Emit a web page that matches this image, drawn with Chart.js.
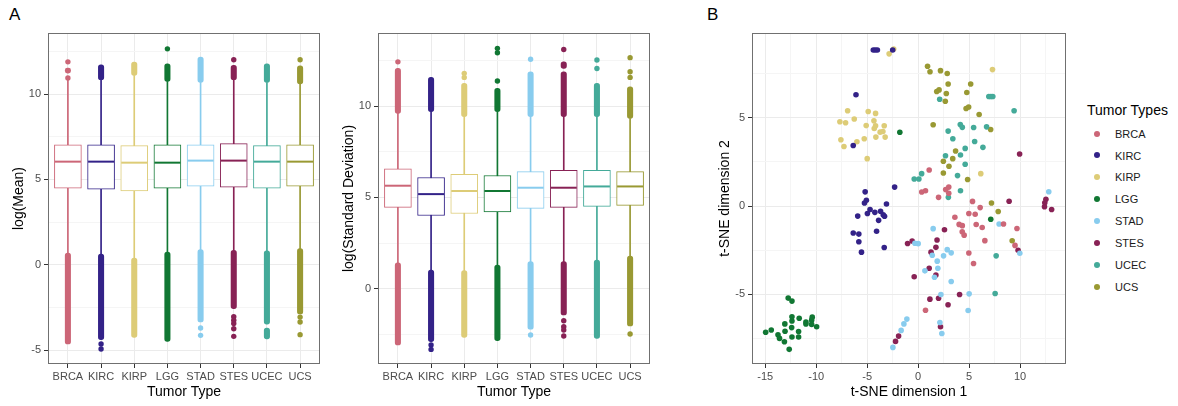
<!DOCTYPE html>
<html>
<head>
<meta charset="utf-8">
<script src="https://cdn.jsdelivr.net/npm/chart.js@4.4.1/dist/chart.umd.min.js"></script>
<style>
  html, body { margin: 0; padding: 0; background: #fff; }
  body { width: 1178px; height: 406px; position: relative; overflow: hidden; font-family: 'Liberation Sans', Arial, sans-serif; }
  canvas { position: absolute; top: 0; }
  .lbl { position: absolute; font-size: 17px; line-height: 17px; color: #000; }
  .legtitle { position: absolute; left: 1087px; top: 103px; font-size: 14px; line-height: 14px; color: #000; white-space: nowrap; }
  .legitem { position: absolute; font-size: 11px; line-height: 12px; color: #1a1a1a; white-space: nowrap; }
  .legdot { position: absolute; width: 6px; height: 6px; border-radius: 50%; }
</style>
</head>
<body>
<div class="lbl" style="left:9px;top:6px;">A</div>
<div class="lbl" style="left:707px;top:6px;">B</div>
<canvas id="cA" width="335" height="406" style="left:0px;"></canvas>
<canvas id="cB" width="330" height="406" style="left:335px;"></canvas>
<canvas id="cC" width="380" height="406" style="left:700px;"></canvas>
<div id="legend"></div>
<script>
// ---------------- DATA ----------------
const categories = ['BRCA', 'KIRC', 'KIRP', 'LGG', 'STAD', 'STES', 'UCEC', 'UCS'];
const colors = ['#CC6677', '#332288', '#DDCC77', '#117733', '#88CCEE', '#882255', '#44AA99', '#999933'];

// Panel A: log(Mean) boxplots
const meanQ1 = [4.48, 4.42, 4.33, 4.48, 4.60, 4.54, 4.48, 4.60];
const meanMedian = [6.04, 6.04, 5.98, 5.98, 6.10, 6.10, 6.04, 6.04];
const meanQ3 = [7.02, 7.02, 6.98, 7.02, 7.02, 7.10, 6.98, 7.02];
const meanWhiskerLow = [0.68, 0.62, 0.39, 0.74, 0.88, 0.84, 0.82, 0.94];
const meanWhiskerHigh = [10.92, 10.84, 11.09, 10.74, 10.68, 10.84, 10.68, 10.60];
// dense runs of outliers: [category index, from, to]
const meanOutlierRuns = [
  [0, 11.23, 11.52], [1, 10.84, 11.72], [2, 11.09, 11.87], [3, 10.74, 11.78],
  [4, 10.68, 12.17], [5, 10.84, 11.68], [6, 10.68, 11.78], [7, 10.60, 11.66],
  [0, -4.65, 0.68], [1, -4.39, 0.62], [2, -4.26, 0.39], [3, -4.49, 0.74],
  [4, -3.36, 0.88], [5, -2.58, 0.84], [6, -3.48, 0.82], [6, -4.35, -3.71], [7, -2.89, 0.94]
];
// separate outliers: [category index, value]
const meanOutliers = [
  [0, 11.89], [0, 10.94], [3, 12.65], [5, 12.01], [7, 12.01],
  [1, -4.65], [1, -4.94], [4, -3.71], [4, -4.14],
  [5, -3.05], [5, -3.25], [5, -3.45], [5, -3.75], [5, -4.20],
  [7, -3.07], [7, -3.36], [7, -4.10]
];
const meanTicks = [-5, -2.5, 0, 2.5, 5, 7.5, 10, 12.5];

// Panel A (right): log(Standard Deviation) boxplots
const sdQ1 = [4.45, 4.01, 4.12, 4.20, 4.40, 4.45, 4.51, 4.56];
const sdMedian = [5.64, 5.18, 5.35, 5.35, 5.53, 5.53, 5.60, 5.60];
const sdQ3 = [6.57, 6.09, 6.26, 6.20, 6.41, 6.48, 6.48, 6.41];
const sdWhiskerLow = [1.42, 1.02, 0.99, 1.30, 1.48, 1.48, 1.57, 1.79];
const sdWhiskerHigh = [9.60, 9.69, 9.42, 9.69, 9.42, 9.42, 9.42, 9.32];
const sdOutlierRuns = [
  [0, 9.60, 12.06], [1, 9.69, 11.57], [2, 9.42, 11.24], [3, 9.69, 10.97],
  [4, 9.42, 11.88], [5, 9.42, 11.88], [5, 12.06, 12.42], [6, 9.42, 11.24], [7, 9.32, 11.06],
  [0, -3.08, 1.42], [1, -2.90, 1.02], [2, -2.66, 0.99], [3, -2.84, 1.30],
  [4, -2.22, 1.48], [5, -1.44, 1.48], [6, -2.72, 1.57], [7, -2.04, 1.79]
];
const sdOutliers = [
  [0, 12.42], [2, 11.79], [2, 11.57], [3, 13.16], [3, 12.92], [3, 11.37],
  [4, 12.56], [5, 13.10], [6, 12.52], [6, 12.06], [7, 12.65], [7, 11.88], [7, 11.57],
  [1, -3.08], [1, -3.32], [4, -2.53], [5, -1.75], [5, -2.08], [5, -2.26], [5, -2.59], [7, -2.48]
];
const sdTicks = [-2.5, 0, 2.5, 5, 7.5, 10, 12.5];

// Panel B: t-SNE coordinates [dim1, dim2]
const tsneBRCA = [[1.08,2.04],[2.7,0.93],[3.0,1.07],[3.0,0.72],[0.35,0.79],[0.72,0.86],[2.0,0.49],[5.33,0.26],[6.08,-0.09],[4.97,-0.42],[5.59,-0.47],[3.6,-0.64],[4.02,-1.04],[4.33,-1.11],[5.69,-1.05],[6.28,-1.22],[8.37,-1.02],[9.69,-1.27],[4.32,-1.46],[4.51,-1.65],[6.54,-1.96],[9.5,-2.23],[4.97,-2.66],[5.43,-3.25],[0.72,-5.9]];
const tsneKIRC = [[-4.4,8.83],[-4.2,8.83],[-4.0,8.83],[-2.5,8.83],[-6.1,6.3],[-6.37,3.42],[-2.31,1.07],[-5.2,0.8],[-5.08,0.32],[-5.27,0.17],[-4.72,-0.2],[-4.98,-0.42],[-4.25,-0.36],[-3.69,-0.3],[-3.43,-0.5],[-3.3,-0.58],[-3.88,-0.81],[-3.11,0.11],[-5.93,-0.57],[-4.08,-1.43],[-6.37,-1.53],[-5.82,-1.59],[-5.82,-2.02],[-5.56,-2.61],[-3.33,-2.35]];
const tsneKIRP = [[-2.4,8.88],[-2.85,8.61],[-6.92,5.39],[-4.9,5.35],[-4.18,5.24],[-7.68,4.77],[-7.12,4.71],[-6.27,4.92],[-4.34,4.82],[-5.1,4.55],[-4.18,4.54],[-4.31,4.39],[-3.33,4.54],[-3.73,4.18],[-3.46,4.22],[-4.15,3.9],[-3.24,3.9],[-5.29,3.81],[-6.01,3.64],[-7.58,3.75],[-7.28,3.37],[-5.0,2.68],[7.29,7.72],[6.14,1.83]];
const tsneLGG = [[-1.8,4.17],[7.12,-0.75],[-12.75,-5.21],[-12.38,-5.38],[-12.38,-6.27],[-12.38,-6.51],[-11.67,-6.35],[-13.08,-6.67],[-12.41,-6.88],[-11.01,-6.57],[-11.01,-6.68],[-10.39,-6.29],[-10.45,-6.46],[-10.45,-6.7],[-9.96,-6.83],[-14.96,-7.14],[-14.41,-7.02],[-13.75,-7.29],[-13.6,-7.49],[-13.12,-7.68],[-13.06,-7.09],[-11.73,-7.1],[-12.38,-7.41],[-11.73,-7.41],[-12.65,-8.11]];
const tsneSTAD = [[12.81,0.81],[1.47,-1.28],[7.94,-1.02],[-0.32,-2.11],[0.0,-2.13],[2.85,-2.47],[3.24,-2.65],[1.38,-2.79],[2.49,-2.82],[9.97,-2.67],[1.87,-3.12],[1.93,-3.52],[0.66,-3.67],[1.6,-4.03],[3.24,-4.27],[2.23,-5.01],[5.0,-4.97],[4.9,-5.91],[2.13,-6.59],[2.32,-7.21],[-1.11,-6.4],[-1.4,-6.67],[-1.67,-7.04],[-2.48,-8.0]];
const tsneSTES = [[9.95,2.94],[8.92,0.27],[12.53,0.38],[12.42,0.18],[12.39,-0.04],[13.09,-0.2],[2.58,-1.34],[-1.04,-2.12],[-0.59,-1.98],[1.85,-1.92],[1.74,-2.34],[1.26,-2.61],[9.8,-2.51],[1.08,-3.52],[1.74,-3.9],[-0.39,-4.0],[4.06,-5.01],[1.15,-5.27],[2.0,-5.22],[2.93,-5.59],[2.19,-6.83],[-1.92,-7.36],[-2.22,-7.66]];
const tsneUCEC = [[2.11,6.04],[6.93,6.2],[7.13,6.2],[7.32,6.2],[9.41,5.39],[4.13,4.61],[4.33,4.45],[5.44,4.44],[6.71,4.48],[2.94,4.24],[3.4,3.81],[5.54,3.65],[6.35,3.32],[4.61,3.26],[2.68,2.84],[4.15,2.89],[4.61,2.36],[3.86,1.72],[0.34,1.83],[-0.39,1.53],[0.07,1.53],[4.15,0.86],[2.96,0.49],[7.65,-2.82],[7.55,-4.95]];
const tsneUCS = [[0.92,7.91],[1.16,7.6],[2.19,7.66],[2.85,7.5],[2.94,6.9],[5.15,6.9],[1.82,6.48],[2.05,6.57],[2.76,6.37],[4.77,6.42],[2.66,5.93],[4.7,5.52],[4.95,5.6],[5.98,5.18],[1.47,4.6],[7.11,4.33],[3.67,3.11],[3.39,2.68],[2.47,2.53],[3.02,2.25],[2.47,1.87],[4.85,1.5],[7.19,0.17],[7.85,-0.31],[9.22,-1.97]];
const tsneSeries = [tsneBRCA, tsneKIRC, tsneKIRP, tsneLGG, tsneSTAD, tsneSTES, tsneUCEC, tsneUCS];
const tsneXTicks = [-15, -12.5, -10, -7.5, -5, -2.5, 0, 2.5, 5, 7.5, 10, 12.5];
const tsneYTicks = [-7.5, -5, -2.5, 0, 2.5, 5, 7.5];

// ---------------- STYLE ----------------
Chart.defaults.font.family = "'Liberation Sans', Arial, sans-serif";
Chart.defaults.animation = false;
Chart.defaults.plugins.legend.display = false;
Chart.defaults.plugins.tooltip.enabled = false;
Chart.defaults.events = [];

const GRID_MAJOR = '#EBEBEB';
const GRID_MINOR = '#F5F5F5';
const TICK_COL = '#4D4D4D';
const AXIS_TICK = '#333333';

const framePlugin = {
  id: 'frame',
  afterDraw(chart) {
    const { ctx, chartArea: a } = chart;
    ctx.save();
    ctx.strokeStyle = '#707070';
    ctx.lineWidth = 1;
    ctx.strokeRect(Math.round(a.left) + 0.5, Math.round(a.top) + 0.5, Math.round(a.right - a.left) - 1, Math.round(a.bottom - a.top) - 1);
    ctx.restore();
  }
};

const isMajor = v => Math.abs(v % 5) < 1e-9;

function valueAxis(ticksList, min, max, title, width, titlePad) {
  return {
    type: 'linear', min: min, max: max,
    afterBuildTicks: s => { s.ticks = ticksList.map(v => ({ value: v })); },
    afterFit: s => { s.width = width; },
    ticks: {
      callback: v => isMajor(v) ? String(v) : '',
      color: TICK_COL, font: { size: 11 }, padding: 3, autoSkip: false
    },
    grid: {
      color: c => (c.tick && isMajor(c.tick.value)) ? GRID_MAJOR : GRID_MINOR,
      lineWidth: 1,
      tickColor: c => (c.tick && isMajor(c.tick.value)) ? AXIS_TICK : 'rgba(0,0,0,0)',
      tickLength: 4
    },
    border: { display: false },
    title: { display: true, text: title, color: '#000', font: { size: 14 }, padding: { top: titlePad, bottom: 0 } }
  };
}

function boxChart(id, q1, med, q3, wLo, wHi, runs, outs, yTicks, yMin, yMax, yTitle, yWidth, yTitlePad, rightPad) {
  const colorOf = c => (c && c.raw) ? colors[c.raw.x] : '#000';
  return new Chart(document.getElementById(id), {
    type: 'bar',
    data: {
      datasets: [
        { type: 'line', label: 'outliers', data: outs.map(o => ({ x: o[0], y: o[1] })),
          showLine: false, pointRadius: 2.7, pointBorderWidth: 0,
          pointBackgroundColor: colorOf, order: 0 },
        { type: 'bar', label: 'outlier runs', data: runs.map(r => ({ x: r[0], y: [r[1], r[2]] })),
          backgroundColor: colorOf, barThickness: 5.4, borderRadius: 3, borderSkipped: false,
          grouped: false, order: 1 },
        { type: 'line', label: 'median', data: med.map((v, i) => ({ x: i, y: v })),
          showLine: false, pointStyle: 'line', pointRadius: 13, pointBorderWidth: 2,
          pointBorderColor: colorOf, order: 2 },
        { type: 'bar', label: 'box', data: q1.map((v, i) => ({ x: i, y: [v, q3[i]] })),
          backgroundColor: '#ffffff', borderColor: colorOf, borderWidth: 1, borderSkipped: false,
          barThickness: 27, grouped: false, order: 3 },
        { type: 'bar', label: 'whisker', data: wLo.map((v, i) => ({ x: i, y: [v, wHi[i]] })),
          backgroundColor: colorOf, barThickness: 1, grouped: false, order: 4 }
      ]
    },
    options: {
      responsive: false,
      layout: { padding: { left: 0, right: rightPad, top: 33, bottom: 0 } },
      scales: {
        x: {
          type: 'linear', min: -0.6, max: 7.6, offset: false,
          afterBuildTicks: s => { s.ticks = categories.map((c, i) => ({ value: i })); },
          afterFit: s => { s.height = 42; },
          ticks: { callback: v => categories[v], color: TICK_COL, font: { size: 11 }, autoSkip: false, maxRotation: 0, padding: 2 },
          grid: { color: GRID_MAJOR, tickColor: AXIS_TICK, tickLength: 4, offset: false },
          border: { display: false },
          title: { display: true, text: 'Tumor Type', color: '#000', font: { size: 14 }, padding: { top: 0, bottom: 5 } }
        },
        y: valueAxis(yTicks, yMin, yMax, yTitle, yWidth, yTitlePad)
      }
    },
    plugins: [framePlugin]
  });
}

boxChart('cA', meanQ1, meanMedian, meanQ3, meanWhiskerLow, meanWhiskerHigh, meanOutlierRuns, meanOutliers,
  meanTicks, -5.82, 13.58, 'log(Mean)', 48, 10.9, 7);
boxChart('cB', sdQ1, sdMedian, sdQ3, sdWhiskerLow, sdWhiskerHigh, sdOutlierRuns, sdOutliers,
  sdTicks, -4.12, 14.0, 'log(Standard Deviation)', 43, 5.9, 7);

// t-SNE scatter
const xAxisT = valueAxis(tsneXTicks, -16.3, 14.5, 't-SNE dimension 1', 0, 0);
delete xAxisT.afterFit;
xAxisT.afterFit = s => { s.height = 42; };
xAxisT.ticks.padding = 2;
xAxisT.title.padding = { top: 0, bottom: 5 };

new Chart(document.getElementById('cC'), {
  type: 'scatter',
  data: {
    datasets: tsneSeries.map((pts, i) => ({
      label: categories[i],
      data: pts.map(p => ({ x: p[0], y: p[1] })),
      pointRadius: 2.8, pointBorderWidth: 0, backgroundColor: colors[i], pointBackgroundColor: colors[i]
    }))
  },
  options: {
    responsive: false,
    layout: { padding: { left: 0, right: 14, top: 33, bottom: 0 } },
    scales: {
      x: xAxisT,
      y: valueAxis(tsneYTicks, -8.94, 9.79, 't-SNE dimension 2', 52, 16.6)
    }
  },
  plugins: [framePlugin]
});

// Legend (HTML text)
const leg = document.getElementById('legend');
const t = document.createElement('div');
t.className = 'legtitle';
t.textContent = 'Tumor Types';
leg.appendChild(t);
categories.forEach((c, i) => {
  const cy = 133.5 + 21.9 * i;
  const d = document.createElement('div');
  d.className = 'legdot';
  d.style.left = (1097 - 3) + 'px';
  d.style.top = (cy - 3) + 'px';
  d.style.background = colors[i];
  leg.appendChild(d);
  const l = document.createElement('div');
  l.className = 'legitem';
  l.style.left = '1115px';
  l.style.top = (cy - 5.9) + 'px';
  l.textContent = c;
  leg.appendChild(l);
});
</script>
</body>
</html>
